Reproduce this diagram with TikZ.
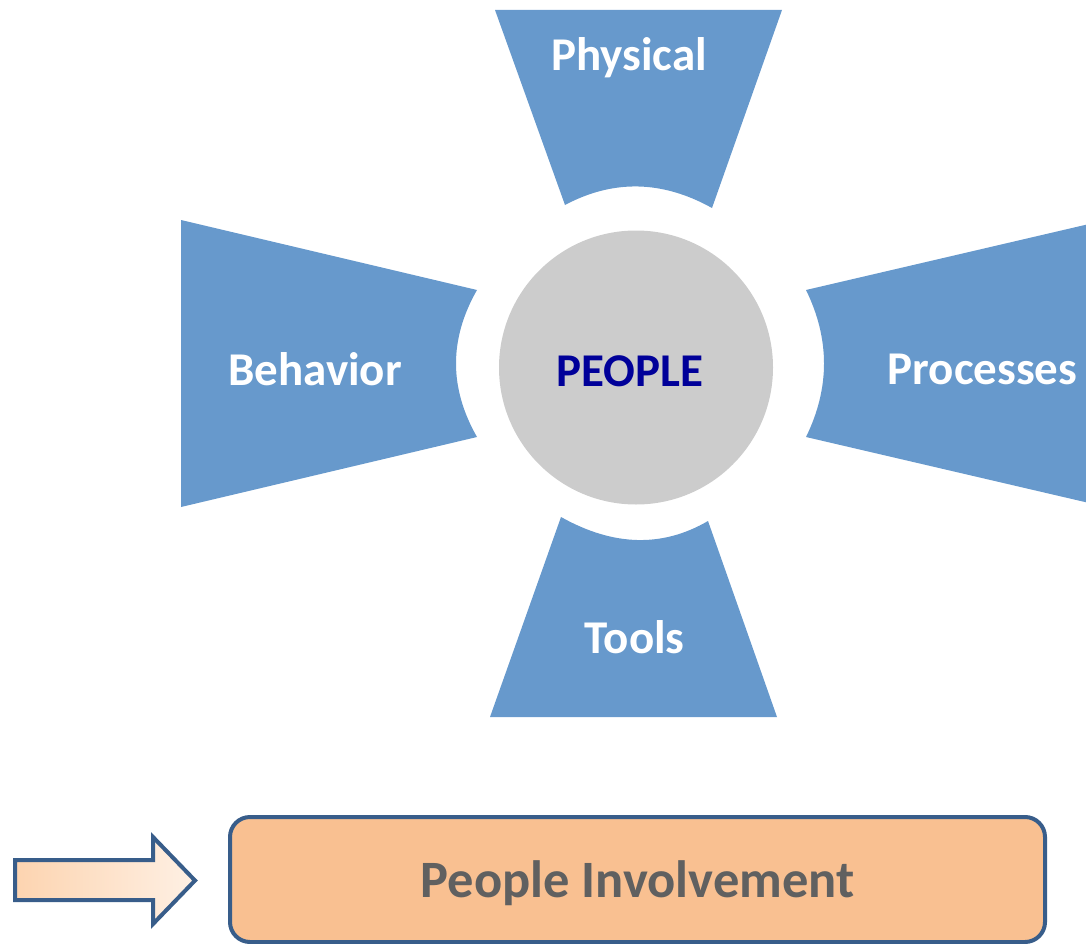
\documentclass[tikz,border=0pt]{standalone}
\usepackage{fontspec}
\setmainfont{Carlito}
\definecolor{petalblue}{RGB}{103,153,204}
\definecolor{hubgray}{RGB}{204,204,204}
\definecolor{hubnavy}{RGB}{0,0,153}
\definecolor{boxfill}{RGB}{249,192,145}
\definecolor{boxborder}{RGB}{56,93,138}
\definecolor{boxtext}{RGB}{96,96,96}
\definecolor{arrowleft}{RGB}{253,212,176}
\definecolor{arrowright}{RGB}{254,240,228}
\tikzset{
  petal/.style={fill=petalblue, draw=none},
  petaltext/.style={anchor=base, inner sep=0pt, text=white, font=\fontsize{47}{56}\selectfont\bfseries},
  hub/.style={circle, fill=hubgray, draw=none, minimum size=274pt, inner sep=0pt},
  hubtext/.style={anchor=base, inner sep=0pt, text=hubnavy, font=\fontsize{47}{56}\selectfont\bfseries},
  resultbox/.style={rectangle, rounded corners=20pt, fill=boxfill, draw=boxborder, line width=4pt,
    minimum width=815pt, minimum height=125pt, inner sep=0pt, text=boxtext,
    font=\fontsize{52.5}{60}\selectfont\bfseries, text height=35.4pt, text depth=0pt},
  blockarrow/.style={draw=boxborder, line width=4pt, left color=arrowleft, right color=arrowright}
}
\begin{document}
\begin{tikzpicture}[x=1pt, y=-1pt]
\useasboundingbox (0,0) rectangle (1086,944);
\clip (0,0) rectangle (1086,944);
% petals
\fill[petal] (495,10) -- (782,10) -- (712,208)
  .. controls (662.3,180.3) and (613.3,179.3) .. (565,205) -- cycle;
\fill[petal] (490,717) -- (561,517)
  .. controls (613.3,546.3) and (662.3,547.7) .. (708,521) -- (777,717) -- cycle;
\fill[petal] (181,220) -- (477,290)
  .. controls (449,339) and (449,388) .. (477,437) -- (181,507) -- cycle;
\fill[petal] (1102,221) -- (806,290)
  .. controls (830,339) and (830,388) .. (806,437) -- (1102,506) -- cycle;
% petal labels
\node[petaltext] (physical) at (629,70.7) {Physical};
\node[petaltext] (behavior) at (315,385) {Behavior};
\node[petaltext] (processes) at (982.5,384.3) {Processes};
\node[petaltext] (tools) at (634.5,653) {Tools};
% hub
\node[hub] (people) at (636,367.5) {};
\node[hubtext] (peoplelabel) at (630,386) {PEOPLE};
% result box and arrow
\node[resultbox] (involvement) at (637.5,879.5) {People Involvement};
\draw[blockarrow] (15,860) -- (153,860) -- (153,837) -- (195,880.5) -- (153,924) -- (153,900) -- (15,900) -- cycle;
\end{tikzpicture}
\end{document}
